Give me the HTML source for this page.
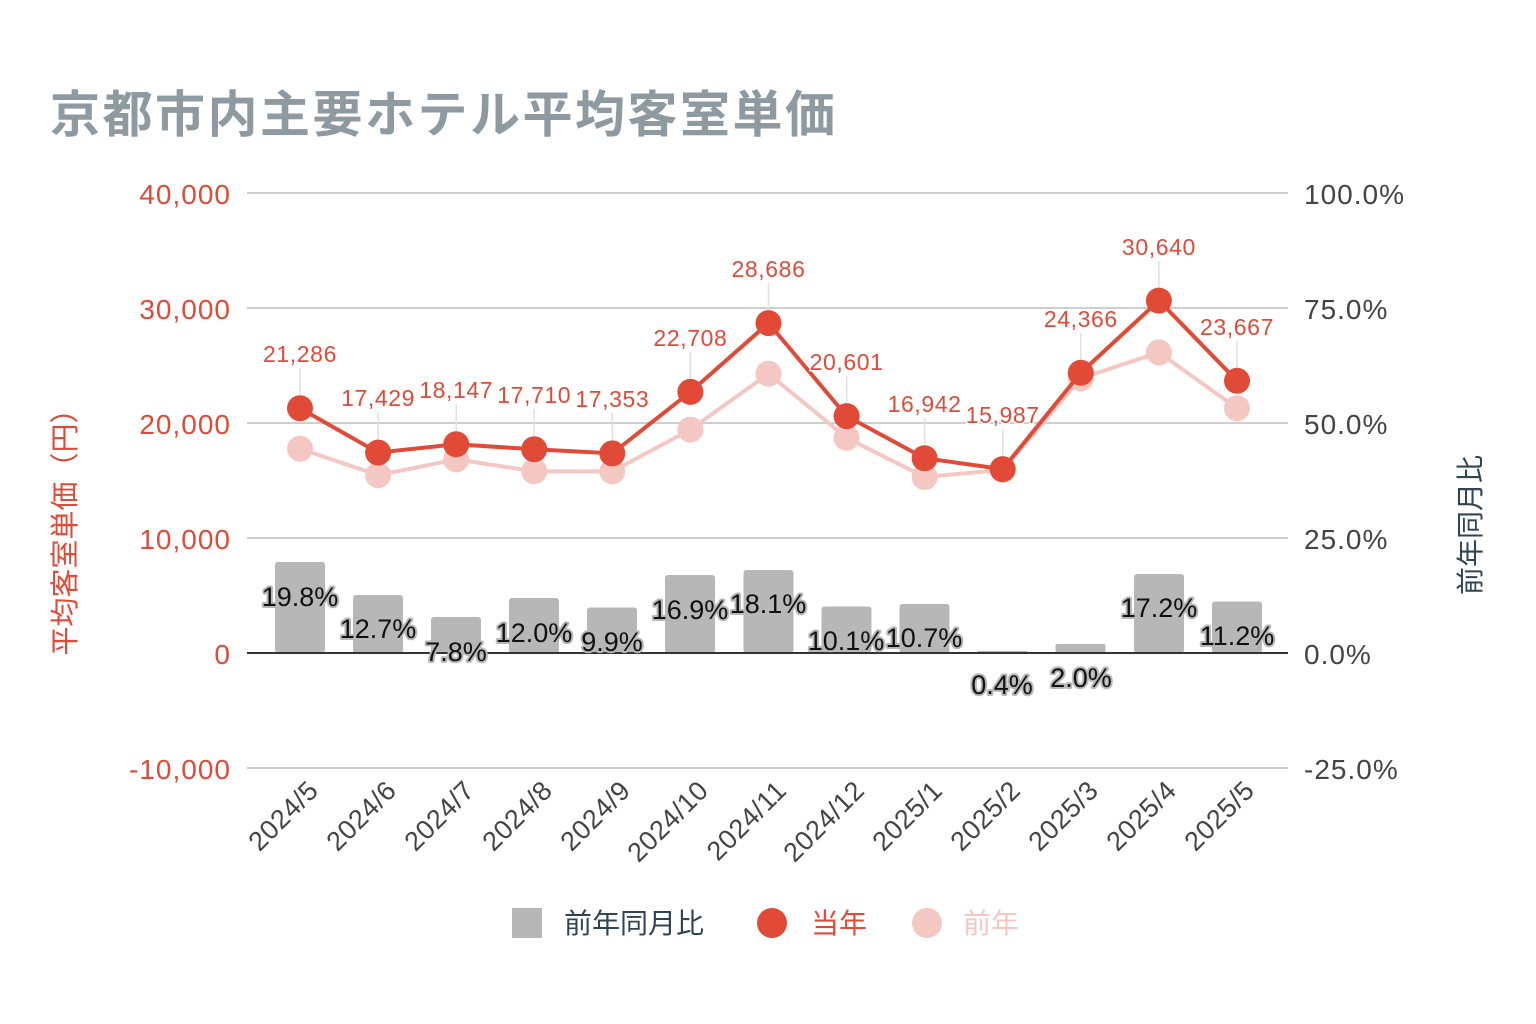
<!DOCTYPE html>
<html><head><meta charset="utf-8"><style>
html,body{margin:0;padding:0;background:#fff;}
svg{display:block;font-family:"Liberation Sans","Noto Sans CJK JP",sans-serif;}
</style></head><body>
<svg width="1536" height="1024" viewBox="0 0 1536 1024" xmlns="http://www.w3.org/2000/svg">
<rect width="1536" height="1024" fill="#fff"/>
<text x="50" y="132" font-size="50" letter-spacing="2.5" font-weight="bold" fill="#8d9aa2" font-family="'Noto Sans CJK JP',sans-serif">京都市内主要ホテル平均客室単価</text>
<g stroke="#cfcfcf" stroke-width="2">
<line x1="247" y1="193" x2="1288" y2="193"/><line x1="247" y1="308" x2="1288" y2="308"/>
<line x1="247" y1="423" x2="1288" y2="423"/><line x1="247" y1="538" x2="1288" y2="538"/>
<line x1="247" y1="768" x2="1288" y2="768"/>
</g>
<g font-size="28" letter-spacing="1" fill="#e04a37" text-anchor="end">
<text x="231" y="204">40,000</text><text x="231" y="319">30,000</text><text x="231" y="434">20,000</text>
<text x="231" y="549">10,000</text><text x="231" y="664">0</text><text x="231" y="779">-10,000</text>
</g>
<g font-size="28" letter-spacing="1" fill="#444">
<text x="1304" y="204">100.0%</text><text x="1304" y="319">75.0%</text><text x="1304" y="434">50.0%</text>
<text x="1304" y="549">25.0%</text><text x="1304" y="664">0.0%</text><text x="1304" y="779">-25.0%</text>
</g>
<text transform="translate(75,525) rotate(-90)" font-size="29" fill="#e04a37" text-anchor="middle" font-family="'Noto Sans CJK JP',sans-serif">平均客室単価（円）</text>
<text transform="translate(1480,525) rotate(-90)" font-size="28" fill="#2f4454" text-anchor="middle" font-family="'Noto Sans CJK JP',sans-serif">前年同月比</text>
<g fill="#b7b7b7">
<rect x="275" y="562" width="50" height="91" rx="3"/>
<rect x="353" y="595" width="50" height="58" rx="3"/>
<rect x="431" y="617" width="50" height="36" rx="3"/>
<rect x="509" y="598" width="50" height="55" rx="3"/>
<rect x="587" y="607.5" width="50" height="45.5" rx="3"/>
<rect x="665" y="575" width="50" height="78" rx="3"/>
<rect x="743.5" y="570" width="50" height="83" rx="3"/>
<rect x="821.5" y="606.5" width="50" height="46.5" rx="3"/>
<rect x="899.5" y="604" width="50" height="49" rx="3"/>
<rect x="977.5" y="651" width="50" height="2"/>
<rect x="1055.5" y="644" width="50" height="9" rx="2"/>
<rect x="1134" y="574" width="50" height="79" rx="3"/>
<rect x="1212" y="601.5" width="50" height="51.5" rx="3"/>
</g>
<line x1="247" y1="653" x2="1288" y2="653" stroke="#333" stroke-width="2"/>
<g font-size="27" fill="#111" stroke="#b7b7b7" stroke-width="4" paint-order="stroke" stroke-linejoin="round" text-anchor="middle">
<text x="300" y="606">19.8%</text><text x="378" y="638">12.7%</text><text x="456" y="661">7.8%</text>
<text x="534" y="642">12.0%</text><text x="612" y="651">9.9%</text><text x="690" y="619">16.9%</text>
<text x="768" y="613">18.1%</text><text x="846" y="650">10.1%</text><text x="924" y="647">10.7%</text>
<text x="1002" y="694">0.4%</text><text x="1081" y="687">2.0%</text><text x="1159" y="617">17.2%</text>
<text x="1237" y="645">11.2%</text>
</g>
<polyline fill="none" stroke="#f4c7c3" stroke-width="4" points="300,448.7 378.1,475.2 456.2,459.4 534.2,471.2 612.3,471.4 690.4,429.6 768.5,373.7 846.6,437.8 924.6,477 1002.7,469.9 1080.8,378.3 1158.9,352.4 1237,408.2"/>
<g fill="#f4c7c3">
<circle cx="300" cy="448.7" r="13"/><circle cx="378.1" cy="475.2" r="13"/><circle cx="456.2" cy="459.4" r="13"/>
<circle cx="534.2" cy="471.2" r="13"/><circle cx="612.3" cy="471.4" r="13"/><circle cx="690.4" cy="429.6" r="13"/>
<circle cx="768.5" cy="373.7" r="13"/><circle cx="846.6" cy="437.8" r="13"/><circle cx="924.6" cy="477" r="13"/>
<circle cx="1002.7" cy="469.9" r="13"/><circle cx="1080.8" cy="378.3" r="13"/><circle cx="1158.9" cy="352.4" r="13"/>
<circle cx="1237" cy="408.2" r="13"/>
</g>
<g stroke="#e0e0e0" stroke-width="1.5">
<line x1="300" y1="368" x2="300" y2="395"/><line x1="378.1" y1="412" x2="378.1" y2="440"/>
<line x1="456.2" y1="404" x2="456.2" y2="431"/><line x1="534.2" y1="409" x2="534.2" y2="436"/>
<line x1="612.3" y1="413" x2="612.3" y2="440"/><line x1="690.4" y1="352" x2="690.4" y2="379"/>
<line x1="768.5" y1="283" x2="768.5" y2="310"/><line x1="846.6" y1="376" x2="846.6" y2="403"/>
<line x1="924.6" y1="418" x2="924.6" y2="445"/><line x1="1002.7" y1="429" x2="1002.7" y2="456"/>
<line x1="1080.8" y1="333" x2="1080.8" y2="360"/><line x1="1158.9" y1="261" x2="1158.9" y2="288"/>
<line x1="1237" y1="341" x2="1237" y2="368"/>
</g>
<polyline fill="none" stroke="#e04a37" stroke-width="4" points="300,408.2 378.1,452.6 456.2,444.3 534.2,449.3 612.3,453.4 690.4,391.9 768.5,323.1 846.6,416.1 924.6,458.2 1002.7,469.1 1080.8,372.8 1158.9,300.6 1237,380.8"/>
<g fill="#e04a37">
<circle cx="300" cy="408.2" r="13"/><circle cx="378.1" cy="452.6" r="13"/><circle cx="456.2" cy="444.3" r="13"/>
<circle cx="534.2" cy="449.3" r="13"/><circle cx="612.3" cy="453.4" r="13"/><circle cx="690.4" cy="391.9" r="13"/>
<circle cx="768.5" cy="323.1" r="13"/><circle cx="846.6" cy="416.1" r="13"/><circle cx="924.6" cy="458.2" r="13"/>
<circle cx="1002.7" cy="469.1" r="13"/><circle cx="1080.8" cy="372.8" r="13"/><circle cx="1158.9" cy="300.6" r="13"/>
<circle cx="1237" cy="380.8" r="13"/>
</g>
<g font-size="23" letter-spacing="0.6" fill="#e04a37" text-anchor="middle" stroke="#fff" stroke-width="3" paint-order="stroke">
<text x="300" y="362">21,286</text><text x="378.1" y="406">17,429</text><text x="456.2" y="398">18,147</text>
<text x="534.2" y="403">17,710</text><text x="612.3" y="407">17,353</text><text x="690.4" y="346">22,708</text>
<text x="768.5" y="277">28,686</text><text x="846.6" y="370">20,601</text><text x="924.6" y="412">16,942</text>
<text x="1002.7" y="423">15,987</text><text x="1080.8" y="327">24,366</text><text x="1158.9" y="255">30,640</text>
<text x="1237" y="335">23,667</text>
</g>
<g font-size="27" letter-spacing="0.5" fill="#444" text-anchor="end">
<text transform="translate(320,792) rotate(-45)">2024/5</text>
<text transform="translate(398,792) rotate(-45)">2024/6</text>
<text transform="translate(476,792) rotate(-45)">2024/7</text>
<text transform="translate(554,792) rotate(-45)">2024/8</text>
<text transform="translate(632,792) rotate(-45)">2024/9</text>
<text transform="translate(710,792) rotate(-45)">2024/10</text>
<text transform="translate(788,792) rotate(-45)">2024/11</text>
<text transform="translate(866,792) rotate(-45)">2024/12</text>
<text transform="translate(944,792) rotate(-45)">2025/1</text>
<text transform="translate(1022,792) rotate(-45)">2025/2</text>
<text transform="translate(1100,792) rotate(-45)">2025/3</text>
<text transform="translate(1178,792) rotate(-45)">2025/4</text>
<text transform="translate(1256,792) rotate(-45)">2025/5</text>
</g>
<rect x="512" y="908" width="30" height="30" fill="#b7b7b7"/>
<text x="564" y="933" font-size="28" fill="#2f4454" font-family="'Noto Sans CJK JP',sans-serif">前年同月比</text>
<circle cx="772" cy="923" r="15" fill="#e04a37"/>
<text x="811" y="933" font-size="28" fill="#e04a37" font-family="'Noto Sans CJK JP',sans-serif">当年</text>
<circle cx="927" cy="923" r="15" fill="#f4c7c3"/>
<text x="963" y="933" font-size="28" fill="#f4c7c3" font-family="'Noto Sans CJK JP',sans-serif">前年</text>
</svg>
</body></html>
